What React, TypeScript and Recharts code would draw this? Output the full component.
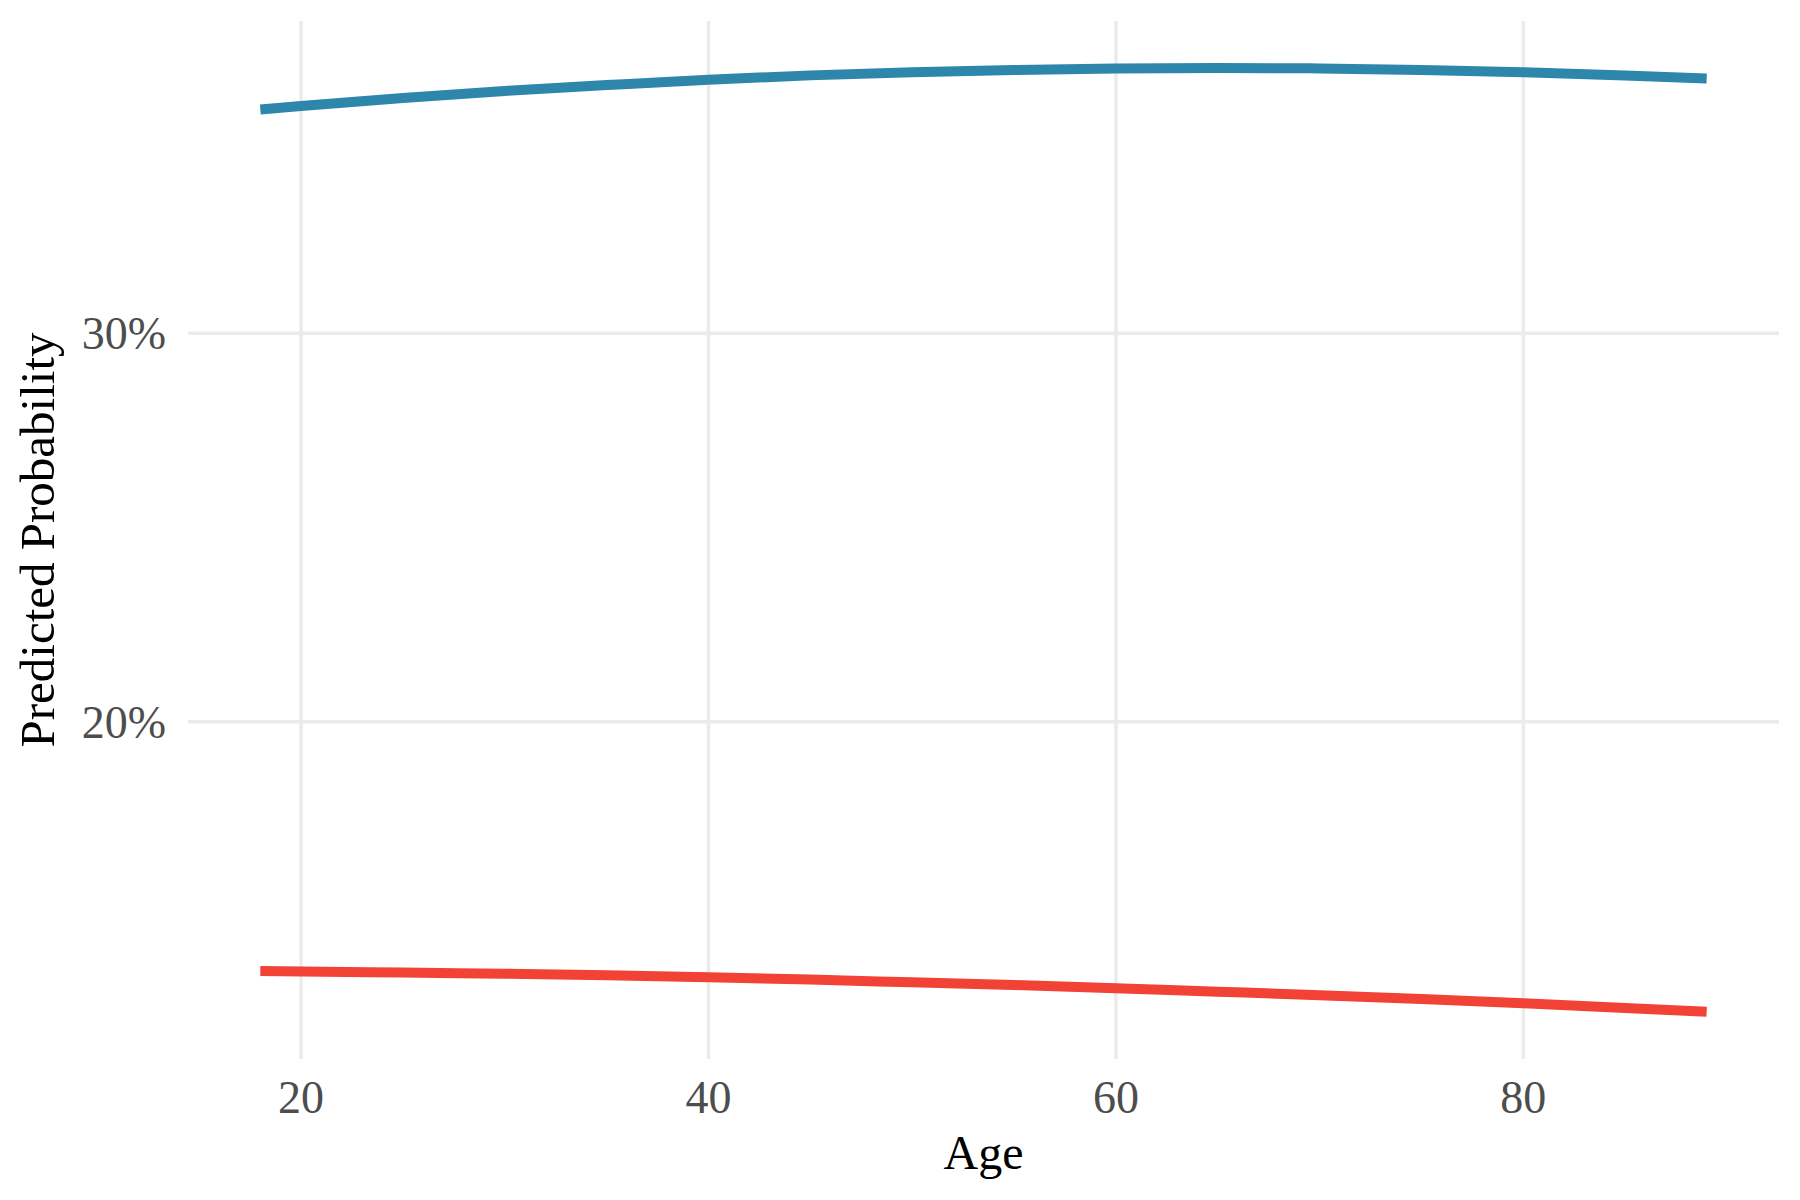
import { LineChart, Line, XAxis, YAxis, CartesianGrid, Label } from 'recharts'

// ages the curves are read at
const ages = [18, 20, 25, 30, 35, 40, 45, 50, 55, 60, 65, 70, 75, 80, 85, 89]

// predicted probability, in percent
const upperGroup = [35.76, 35.85, 36.06, 36.24, 36.39, 36.53, 36.64, 36.72, 36.78, 36.82, 36.83, 36.82, 36.78, 36.72, 36.64, 36.56]
const lowerGroup = [13.58, 13.57, 13.54, 13.51, 13.47, 13.42, 13.36, 13.29, 13.22, 13.14, 13.05, 12.96, 12.86, 12.75, 12.63, 12.53]

const xTicks = [20, 40, 60, 80]
const yTicks = [20, 30]

const FONT = '"Liberation Serif", "Times New Roman", serif'
const GRID = '#EBEBEB'

const data = ages.map((age, i) => ({
    age,
    upper: upperGroup[i],
    lower: lowerGroup[i],
}))

function XTick(props: any) {
    const { x, y, payload } = props
    return (
        <text x={x} y={y + 54} textAnchor="middle" fontFamily={FONT} fontSize={46} fill="#4D4D4D">
            {payload.value}
        </text>
    )
}

function YTick(props: any) {
    const { x, y, payload } = props
    return (
        <text x={x - 22} y={y + 16} textAnchor="end" fontFamily={FONT} fontSize={46} fill="#4D4D4D">
            {`${payload.value}%`}
        </text>
    )
}

export default function App() {
    return (
        <div style={{ position: 'absolute', left: 0, top: 0, background: '#fff' }}>
            <LineChart width={1800} height={1200} data={data} margin={{ top: 21, right: 21, bottom: 0, left: 0 }}>
                {/* grid only at the tick values, no frame at the panel edges */}
                <CartesianGrid stroke={GRID} strokeWidth={3.5} syncWithTicks />
                <XAxis
                    dataKey="age"
                    type="number"
                    domain={[14.45, 92.55]}
                    ticks={xTicks}
                    allowDataOverflow
                    axisLine={false}
                    tickLine={false}
                    tickSize={0}
                    tickMargin={0}
                    height={141}
                    tick={<XTick />}
                    interval={0}
                >
                    <Label
                        content={(p: any) => {
                            const vb = p.viewBox
                            return (
                                <text x={vb.x + vb.width / 2} y={vb.y + 109.5} textAnchor="middle" fontFamily={FONT} fontSize={48} fill="#000">
                                    Age
                                </text>
                            )
                        }}
                    />
                </XAxis>
                <YAxis
                    type="number"
                    domain={[11.316, 38.04]}
                    ticks={yTicks}
                    allowDataOverflow
                    axisLine={false}
                    tickLine={false}
                    tickSize={0}
                    tickMargin={0}
                    width={188}
                    tick={<YTick />}
                    interval={0}
                >
                    <Label
                        content={(p: any) => {
                            const vb = p.viewBox
                            const cy = vb.y + vb.height / 2
                            return (
                                <text
                                    x={53.5}
                                    y={cy}
                                    transform={`rotate(-90, 53.5, ${cy})`}
                                    textAnchor="middle"
                                    fontFamily={FONT}
                                    fontSize={49}
                                    fill="#000"
                                >
                                    Predicted Probability
                                </text>
                            )
                        }}
                    />
                </YAxis>
                <Line type="monotone" dataKey="upper" stroke="#2E86AB" strokeWidth={10} dot={false} isAnimationActive={false} />
                <Line type="monotone" dataKey="lower" stroke="#F24236" strokeWidth={10} dot={false} isAnimationActive={false} />
            </LineChart>
        </div>
    )
}
